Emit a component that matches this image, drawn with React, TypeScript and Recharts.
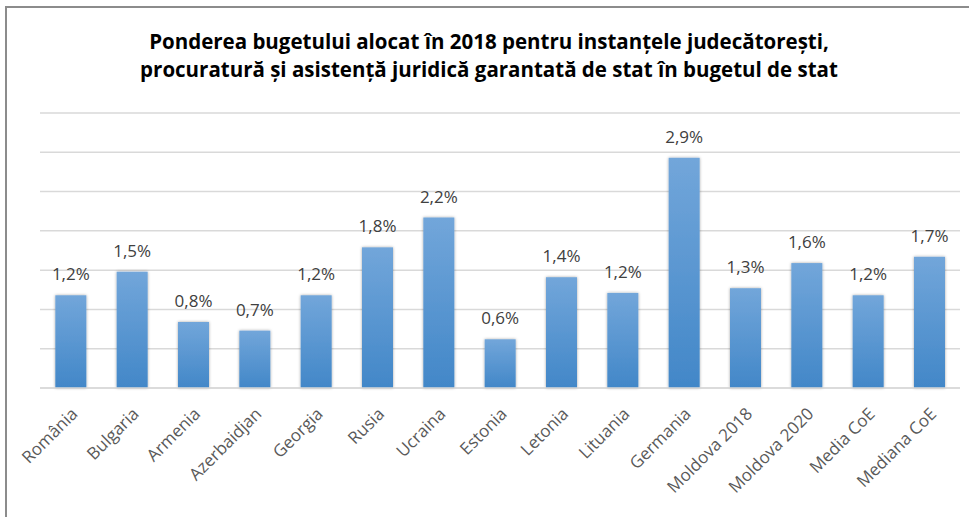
import { BarChart, Bar, XAxis, YAxis, CartesianGrid, LabelList } from 'recharts';

const countries = [
  'România', 'Bulgaria', 'Armenia', 'Azerbaidjan', 'Georgia', 'Rusia', 'Ucraina',
  'Estonia', 'Letonia', 'Lituania', 'Germania', 'Moldova 2018', 'Moldova 2020',
  'Media CoE', 'Mediana CoE',
];
const shares = [1.18, 1.48, 0.84, 0.73, 1.18, 1.79, 2.17, 0.62, 1.41, 1.21, 2.93, 1.27, 1.59, 1.18, 1.67];
const yTicks = [0, 0.5, 1, 1.5, 2, 2.5, 3, 3.5];
const titleLines = [
  'Ponderea bugetului alocat în 2018 pentru instanțele judecătorești,',
  'procuratură și asistență juridică garantată de stat în bugetul de stat',
];

const data = countries.map((name, i) => ({ name, value: shares[i] }));

const fmt = (v: number) => `${v.toFixed(1).replace('.', ',')}%`;

function AngledTick({ x, y, payload }: any) {
  return (
    <g transform={`translate(${x + 8},${y + 19})`}>
      <text
        x={0}
        y={0}
        textAnchor="end"
        transform="rotate(-45)"
        fill="#595959"
        fontSize={17}
        fontFamily="'Open Sans', sans-serif"
      >
        {payload.value}
      </text>
    </g>
  );
}

function ShadowBar({ x, y, width, height }: any) {
  return (
    <rect x={x} y={y} width={width} height={height} fill="url(#barFill)" filter="url(#barShadow)" />
  );
}

export default function App() {
  return (
    <div style={{ position: 'absolute', left: 0, top: 0, width: 969, height: 517, background: '#fff' }}>
      <div
        style={{
          position: 'absolute', left: 5, top: 6, right: 0, bottom: 0,
          borderTop: '2px solid #8c8c8c', borderLeft: '2px solid #8c8c8c',
        }}
      />
      <div
        style={{
          position: 'absolute', left: 0, top: 27, width: 978, textAlign: 'center',
          fontFamily: "'Open Sans', sans-serif", fontWeight: 700, fontSize: 20.5,
          lineHeight: '28px', color: '#000',
        }}
      >
        {titleLines.map(t => <div key={t}>{t}</div>)}
      </div>
      <div style={{ position: 'absolute', left: 0, top: 0 }}>
        <BarChart
          width={969}
          height={517}
          data={data}
          margin={{ top: 113, right: 9, left: 40, bottom: 0 }}
          barCategoryGap="25%"
        >
          <defs>
            <linearGradient id="barFill" x1="0" y1="0" x2="0" y2="1">
              <stop offset="0%" stopColor="#72a6da" />
              <stop offset="100%" stopColor="#4287c8" />
            </linearGradient>
            <filter id="barShadow" x="-20%" y="-10%" width="140%" height="120%">
              <feDropShadow dx="0" dy="0" stdDeviation="1.5" floodColor="#000" floodOpacity="0.35" />
            </filter>
          </defs>
          <CartesianGrid vertical={false} stroke="#d9d9d9" strokeWidth={1.5} />
          <YAxis hide domain={[0, 3.5]} ticks={yTicks} interval={0} />
          <XAxis
            dataKey="name"
            interval={0}
            axisLine={{ stroke: '#d9d9d9', strokeWidth: 1.5 }}
            tickLine={false}
            tick={<AngledTick />}
            height={129}
          />
          <Bar dataKey="value" shape={<ShadowBar />} isAnimationActive={false}>
            <LabelList
              dataKey="value"
              position="top"
              offset={15}
              formatter={(v: any) => fmt(Number(v))}
              fill="#404040"
              fontSize={17}
              fontFamily="'Open Sans', sans-serif"
            />
          </Bar>
        </BarChart>
      </div>
    </div>
  );
}
